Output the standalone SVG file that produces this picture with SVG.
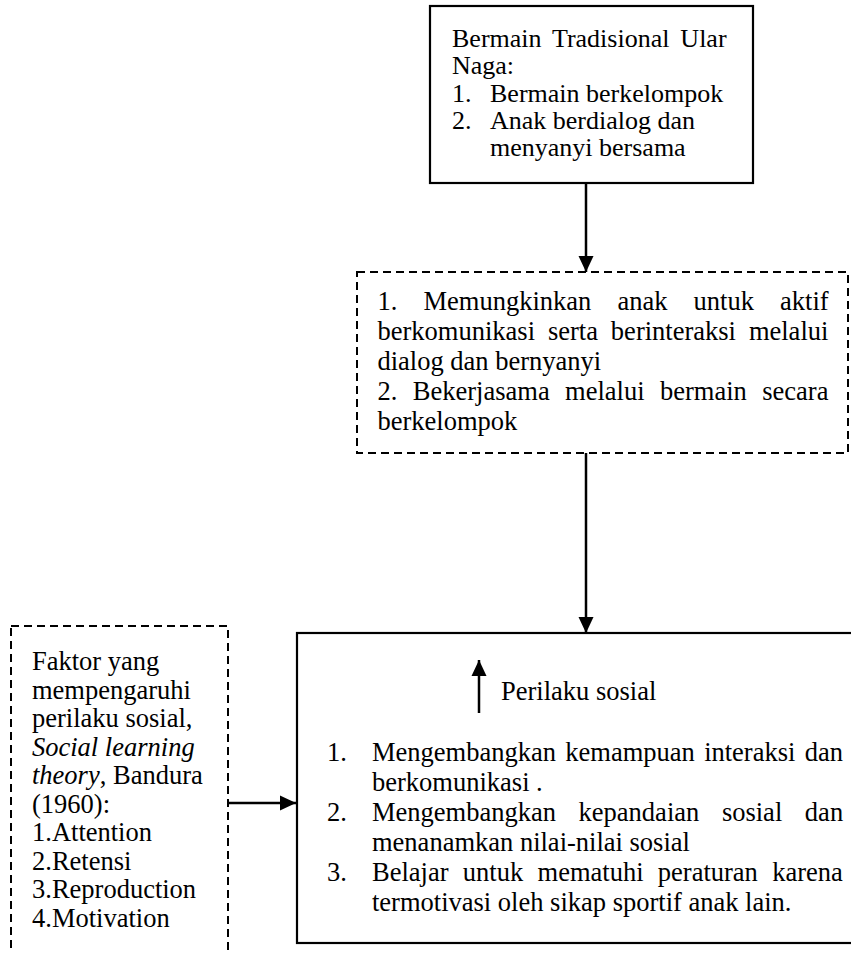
<svg xmlns="http://www.w3.org/2000/svg" width="851" height="953" viewBox="0 0 851 953">
<style>
.t{font-family:"Liberation Serif","Times New Roman",serif;fill:#000;}
.f26{font-size:26px;}
.f265{font-size:26.5px;}
.solid{fill:#fff;stroke:#000;stroke-width:2.2;}
.dash{fill:#fff;stroke:#000;stroke-width:2;stroke-dasharray:8,5;}
.conn{stroke:#000;stroke-width:2.5;fill:none;}
</style>
<defs>
<marker id="ah" markerWidth="16" markerHeight="16" viewBox="0 0 16 16" refX="16" refY="8" orient="auto" markerUnits="userSpaceOnUse">
<path d="M0,0.5 L16,8 L0,15.5 Z" fill="#000"/>
</marker>
</defs>
<rect width="851" height="953" fill="#fff"/>

<g id="node-bermain">
<rect class="solid" x="430" y="6" width="323" height="177"/>
<text class="t f26" x="452" y="47" word-spacing="4.4">Bermain Tradisional Ular</text>
<text class="t f26" x="452" y="74">Naga:</text>
<text class="t f26" x="452" y="101.5">1.</text>
<text class="t f26" x="490" y="101.5">Bermain berkelompok</text>
<text class="t f26" x="452" y="129">2.</text>
<text class="t f26" x="490" y="129">Anak berdialog dan</text>
<text class="t f26" x="490" y="156">menyanyi bersama</text>
</g>

<g id="node-manfaat">
<rect class="dash" x="357" y="272" width="491" height="181"/>
<text class="t f265" x="377.5" y="310" word-spacing="19.5">1. Memungkinkan anak untuk aktif</text>
<text class="t f265" x="377.5" y="339.5" word-spacing="6.3">berkomunikasi serta berinteraksi melalui</text>
<text class="t f265" x="377.5" y="369.5">dialog dan bernyanyi</text>
<text class="t f265" x="377.5" y="399.5" word-spacing="8.8">2. Bekerjasama melalui bermain secara</text>
<text class="t f265" x="377.5" y="429.5">berkelompok</text>
</g>

<g id="node-faktor">
<rect class="dash" x="11" y="626" width="217" height="360"/>
<text class="t f265" x="32" y="670">Faktor yang</text>
<text class="t f265" x="32" y="698.5">mempengaruhi</text>
<text class="t f265" x="32" y="727">perilaku sosial,</text>
<text class="t f265" x="32" y="755.5" font-style="italic">Social learning</text>
<text class="t f265" x="32" y="784"><tspan font-style="italic">theory</tspan>, Bandura</text>
<text class="t f265" x="32" y="812.5">(1960):</text>
<text class="t f265" x="32" y="841">1.Attention</text>
<text class="t f265" x="32" y="869.5">2.Retensi</text>
<text class="t f265" x="32" y="898">3.Reproduction</text>
<text class="t f265" x="32" y="926.5">4.Motivation</text>
</g>

<g id="node-perilaku">
<rect class="solid" x="297" y="633" width="600" height="310"/>
<line class="conn" x1="479" y1="713" x2="479" y2="660" marker-end="url(#ah)"/>
<text class="t f265" x="501" y="700">Perilaku sosial</text>
<text class="t f265" x="327" y="761">1.</text>
<text class="t f265" x="372" y="761" word-spacing="2.7">Mengembangkan kemampuan interaksi dan</text>
<text class="t f265" x="372" y="791">berkomunikasi .</text>
<text class="t f265" x="327" y="821">2.</text>
<text class="t f265" x="372" y="821" word-spacing="16">Mengembangkan kepandaian sosial dan</text>
<text class="t f265" x="372" y="851">menanamkan nilai-nilai sosial</text>
<text class="t f265" x="327" y="881">3.</text>
<text class="t f265" x="372" y="881" word-spacing="7.7">Belajar untuk mematuhi peraturan karena</text>
<text class="t f265" x="372" y="911">termotivasi oleh sikap sportif anak lain.</text>
</g>

<g id="connectors">
<line class="conn" x1="586" y1="183" x2="586" y2="272" marker-end="url(#ah)"/>
<line class="conn" x1="586" y1="453" x2="586" y2="633" marker-end="url(#ah)"/>
<line class="conn" x1="229" y1="803" x2="296" y2="803" marker-end="url(#ah)"/>
</g>
</svg>
